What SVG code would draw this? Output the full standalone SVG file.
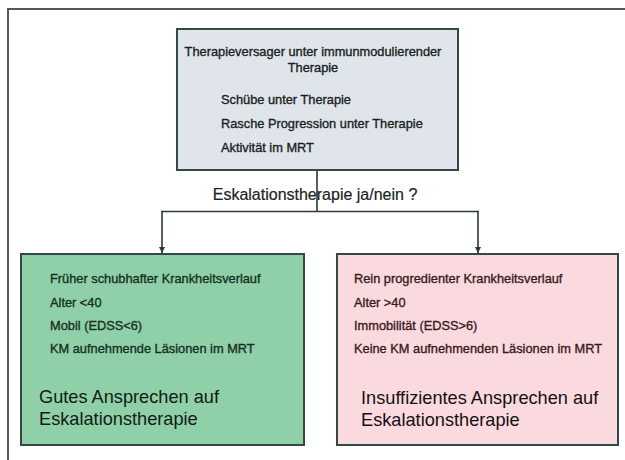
<svg xmlns="http://www.w3.org/2000/svg" width="625" height="460" viewBox="0 0 625 460">
<style>
text{font-family:"Liberation Sans",Arial,Helvetica,sans-serif}
.box{stroke:#344848;stroke-width:2}
.sm{font-size:12.8px;stroke-width:0.35}
.big{font-size:18.2px}
.conn{stroke:#2e3a3a;stroke-width:1.6;fill:none}
.tc{fill:#1a1f24;stroke:#1a1f24}
.gc{fill:#16301f;stroke:#16301f}
.rc{fill:#3a1a1c;stroke:#3a1a1c}
</style>
<defs>
<marker id="ah" markerWidth="8" markerHeight="8" refX="6" refY="4" orient="auto" markerUnits="userSpaceOnUse">
<path d="M0,1 L6,4 L0,7 Z" fill="#2e3a3a"/>
</marker>
</defs>
<rect x="0" y="0" width="625" height="460" fill="#ffffff"/>
<path d="M8,460 L8,9 L625,9" fill="none" stroke="#555" stroke-width="2"/>
<g id="top">
<rect class="box" x="177" y="29" width="281" height="141" fill="#dfe5ea"/>
<text class="sm tc" x="313" y="56" text-anchor="middle">Therapieversager unter immunmodulierender</text>
<text class="sm tc" x="313" y="72" text-anchor="middle">Therapie</text>
<text class="sm tc" x="221" y="104">Schübe unter Therapie</text>
<text class="sm tc" x="221" y="128">Rasche Progression unter Therapie</text>
<text class="sm tc" x="221" y="152">Aktivität im MRT</text>
</g>
<g id="connectors">
<path class="conn" d="M317,170 L317,211.5"/>
<path class="conn" d="M317,211.5 L162,211.5 L162,253" marker-end="url(#ah)"/>
<path class="conn" d="M317,211.5 L478,211.5 L478,253" marker-end="url(#ah)"/>
</g>
<g id="question">
<text x="315" y="200" font-size="16" text-anchor="middle" fill="#1c2424" stroke="#1c2424" stroke-width="0.2">Eskalationstherapie ja/nein ?</text>
</g>
<g id="left">
<rect class="box" x="21" y="254" width="283" height="191" fill="#8fd0a8"/>
<text class="sm gc" x="50" y="283">Früher schubhafter Krankheitsverlauf</text>
<text class="sm gc" x="50" y="307">Alter &lt;40</text>
<text class="sm gc" x="50" y="330">Mobil (EDSS&lt;6)</text>
<text class="sm gc" x="50" y="353">KM aufnehmende Läsionen im MRT</text>
<text class="big" x="39" y="403" fill="#101c14">Gutes Ansprechen auf</text>
<text class="big" x="39" y="425" fill="#101c14">Eskalationstherapie</text>
</g>
<g id="right">
<rect class="box" x="337" y="254" width="281" height="191" fill="#fadadf"/>
<text class="sm rc" x="354" y="283">Rein progredienter Krankheitsverlauf</text>
<text class="sm rc" x="354" y="307">Alter &gt;40</text>
<text class="sm rc" x="354" y="330">Immobilität (EDSS&gt;6)</text>
<text class="sm rc" x="354" y="353">Keine KM aufnehmenden Läsionen im MRT</text>
<text class="big" x="361" y="404" fill="#161012">Insuffizientes Ansprechen auf</text>
<text class="big" x="361" y="426" fill="#161012">Eskalationstherapie</text>
</g>
</svg>
